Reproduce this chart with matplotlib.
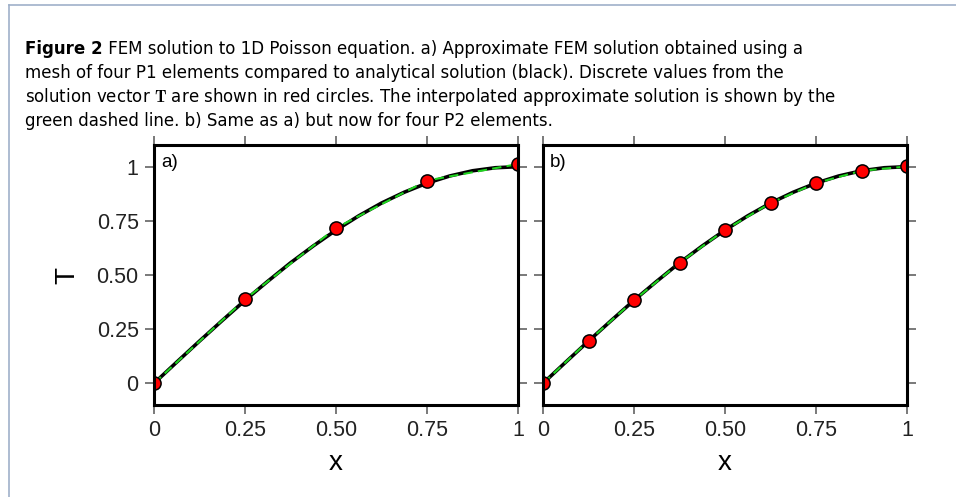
import matplotlib
matplotlib.use('Agg')
import matplotlib.pyplot as plt
from matplotlib.lines import Line2D

plt.rcParams['mathtext.fontset'] = 'cm'

# Аналитическое решение
x_exact = [0, 0.0625, 0.125, 0.1875, 0.25, 0.3125, 0.375, 0.4375, 0.5,
           0.5625, 0.625, 0.6875, 0.75, 0.8125, 0.875, 0.9375, 1.0]
T_exact = [0, 0.098, 0.195, 0.290, 0.383, 0.471, 0.556, 0.634, 0.707,
           0.773, 0.832, 0.882, 0.924, 0.957, 0.981, 0.995, 1.0]

# Узловые значения FEM
x_p1 = [0, 0.25, 0.5, 0.75, 1.0]
T_p1 = [0, 0.388, 0.717, 0.936, 1.012]
x_p2 = [0, 0.125, 0.25, 0.375, 0.5, 0.625, 0.75, 0.875, 1.0]
T_p2 = [0, 0.196, 0.383, 0.556, 0.708, 0.832, 0.924, 0.981, 1.001]

xticks = [0, 0.25, 0.5, 0.75, 1]
xtick_labels = ['0', '0.25', '0.50', '0.75', '1']
yticks = [0, 0.25, 0.5, 0.75, 1]
ytick_labels = ['0', '0.25', '0.50', '0.75', '1']

caption = [
    ' FEM solution to 1D Poisson equation. a) Approximate FEM solution obtained using a',
    'mesh of four P1 elements compared to analytical solution (black). Discrete values from the',
    r'solution vector $\mathbf{T}$ are shown in red circles. The interpolated approximate solution is shown by the',
    'green dashed line. b) Same as a) but now for four P2 elements.',
]

W, H = 956, 497
fig = plt.figure(figsize=(W / 100, H / 100), dpi=100)

# Рамка
fig.add_artist(Line2D([9 / W, 9 / W], [0, 1 - 5 / H], color='#9fb0c9', lw=1.2))
fig.add_artist(Line2D([9 / W, 1], [1 - 5 / H, 1 - 5 / H], color='#9fb0c9', lw=1.2))

# Подпись
cap_font = 'DejaVu Sans'
cap_size = 12
x0 = 25 / W
baselines = [54, 78, 102, 126]
t = fig.text(x0, 1 - baselines[0] / H, 'Figure 2', fontsize=cap_size, family=cap_font,
             fontweight='bold', va='baseline')
r = fig.canvas.get_renderer()
bb = t.get_window_extent(r)
fig.text(bb.x1 / W, 1 - baselines[0] / H, caption[0], fontsize=cap_size, family=cap_font,
         va='baseline')
for line, yb in zip(caption[1:], baselines[1:]):
    fig.text(x0, 1 - yb / H, line, fontsize=cap_size, family=cap_font, va='baseline')

left_a, left_b, width = 154 / W, 543 / W, 364 / W
bottom, height = 1 - 405 / H, 260 / H
ax_a = fig.add_axes([left_a, bottom, width, height])
ax_b = fig.add_axes([left_b, bottom, width, height])

for ax, xs, ts, lab in [(ax_a, x_p1, T_p1, 'a)'), (ax_b, x_p2, T_p2, 'b)')]:
    ax.plot(x_exact, T_exact, color='black', lw=2.6, solid_capstyle='butt')
    ax.plot(xs, ts, color='#1fd41f', lw=1.5, dashes=(4.5, 2.5))
    ax.plot(xs, ts, 'o', color='red', markersize=9.5, markeredgecolor='black',
            markeredgewidth=1.1)
    ax.set_xlim(0, 1)
    ax.set_ylim(-0.1, 1.1)
    ax.set_xticks(xticks)
    ax.set_xticklabels(xtick_labels, family='Liberation Sans', fontsize=15.5, color='#222222')
    ax.set_yticks(yticks)
    ax.tick_params(axis='both', which='major', direction='out', length=6.5, width=1.1,
                   color='#555555', top=True, right=True, pad=4.5)
    for s in ax.spines.values():
        s.set_linewidth(2.2)
        s.set_color('black')
    ax.text(0.02, 0.965, lab, transform=ax.transAxes, ha='left', va='top',
            family='Liberation Sans', fontsize=13.5)
    ax.set_xlabel('x', family='Liberation Sans', fontsize=20, labelpad=6)

ax_a.set_yticklabels(ytick_labels, family='Liberation Sans', fontsize=15.5, color='#222222')
ax_b.set_yticklabels([])
ax_a.set_ylabel('T', family='Liberation Sans', fontsize=20, labelpad=12)

plt.savefig('out.png', dpi=100)
